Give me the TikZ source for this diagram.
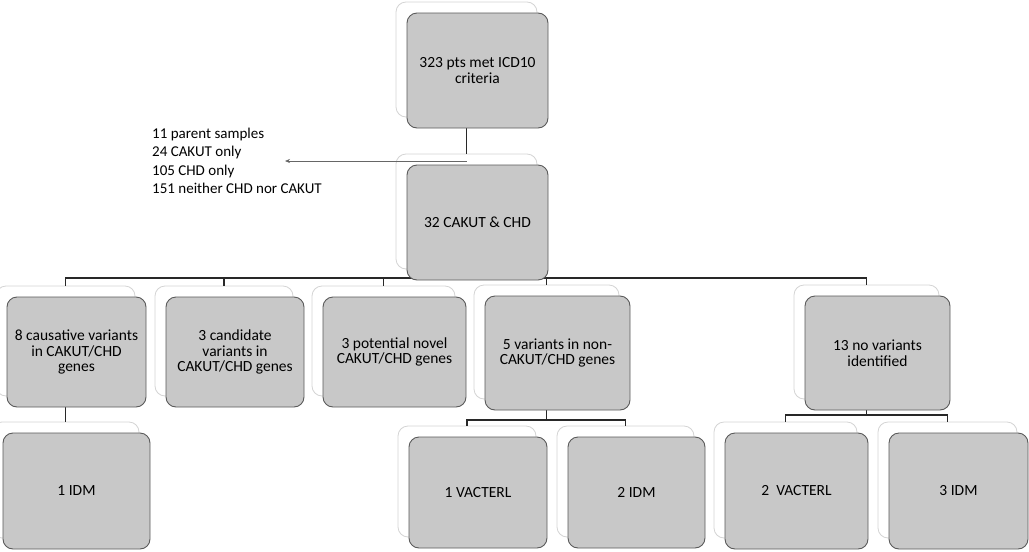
\documentclass[tikz,border=0pt]{standalone}
\usepackage{fontspec}
\setmainfont{Carlito}
\usetikzlibrary{arrows.meta}

\pgfdeclarelayer{backdrop}
\pgfdeclarelayer{links}
\pgfsetlayers{backdrop,links,main}

\definecolor{boxgray}{RGB}{200,200,200}
\definecolor{edgegray}{RGB}{90,90,90}
\definecolor{linkgray}{RGB}{40,40,40}

% one box of the chart: a white card behind, the grey card in front
\newcommand{\chartbox}[6]{% name, x, y, width, height, text
  \begin{pgfonlayer}{backdrop}
    \node[backbox, minimum width=#4pt, minimum height=#5pt] (#1b) at (#2-11,#3-11) {};
  \end{pgfonlayer}
  \node[frontbox, minimum width=#4pt, minimum height=#5pt] (#1) at (#2,#3) {#6};
}

\begin{document}
\begin{tikzpicture}[x=1pt, y=-1pt,
    backbox/.style={draw=black!17, fill=white, rounded corners=10pt, line width=0.8pt},
    frontbox/.style={draw=edgegray, fill=boxgray, rounded corners=10pt, line width=0.9pt,
      align=center, font=\fontsize{15.5}{15.5}\selectfont},
    link/.style={draw=linkgray, line width=1.1pt},
    arrowline/.style={draw=black!60, line width=0.6pt, -{Stealth[length=5pt, width=4pt]}},
    textlist/.style={align=left, font=\fontsize{15}{18.5}\selectfont, inner sep=0pt}]
  \useasboundingbox (0,0) rectangle (1029,552);

  % boxes
  \chartbox{top}{477.5}{70.5}{141}{115}{323 pts met ICD10\\criteria}
  \chartbox{mid}{477.5}{222.5}{141}{115}{32 CAKUT \& CHD}
  \chartbox{c1}{76.5}{352}{139}{110}{8 causative variants\\in CAKUT/CHD\\genes}
  \chartbox{c2}{235}{352}{138}{110}{3 candidate\\variants in\\CAKUT/CHD genes}
  \chartbox{c3}{394.5}{352}{143}{110}{3 potential novel\\CAKUT/CHD genes}
  \chartbox{c4}{557.5}{353}{145}{114}{5 variants in non-\\CAKUT/CHD genes}
  \chartbox{c5}{877.5}{353}{145}{114}{13 no variants\\identified}
  \chartbox{d1}{76.5}{491}{147}{116}{1 IDM}
  \chartbox{d2}{478}{492.5}{138}{111}{1 VACTERL}
  \chartbox{d3}{636.5}{492.5}{137}{111}{2 IDM}
  \chartbox{d4}{796.5}{491}{143}{116}{2\ \ VACTERL}
  \chartbox{d5}{958.5}{491}{139}{116}{3 IDM}

  % excluded samples
  \node[textlist, anchor=west] (excl) at (152,161)
    {11 parent samples\\24 CAKUT only\\105 CHD only\\151 neither CHD nor CAKUT};
  \coordinate (tip) at (285,161);

  \coordinate (bar1) at (0,278);
  \coordinate (bar2) at (0,420);
  \coordinate (bar3) at (0,415);

  \begin{pgfonlayer}{links}
    \draw[link] (topb.south) -- (midb.north);
    \draw[arrowline] (topb.south |- tip) -- (tip);
    \foreach \c in {c1,c2,c3,c4,c5}
      \draw[link] (midb.south) -- (midb.south |- bar1) -| (\c b.north);
    \draw[link] (c1b.south) -- (d1b.north);
    \foreach \c in {d2,d3}
      \draw[link] (c4b.south) -- (c4b.south |- bar2) -| (\c b.north);
    \foreach \c in {d4,d5}
      \draw[link] (c5b.south) -- (c5b.south |- bar3) -| (\c b.north);
  \end{pgfonlayer}
\end{tikzpicture}
\end{document}
